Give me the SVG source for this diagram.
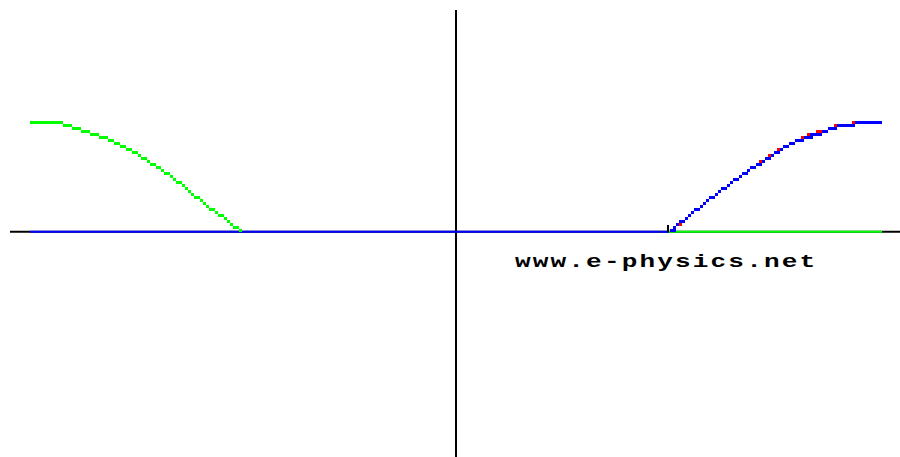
<svg xmlns="http://www.w3.org/2000/svg" width="900" height="457" viewBox="0 0 900 457">
<style>
.ax{stroke:#000;stroke-width:2;fill:none}
.g{stroke:#00ff00;stroke-width:3;fill:none}
.b{stroke:#0000ff;stroke-width:3;fill:none}
.r{stroke:#ff0000;stroke-width:3;fill:none}
.txt{font-family:"Liberation Mono","DejaVu Sans Mono",monospace;font-weight:bold;font-size:18px;fill:#000}
</style>
<rect width="900" height="457" fill="#fff"/>
<g id="axes">
<line class="ax" x1="10" y1="231.8" x2="900" y2="231.8"/>
<line class="ax" x1="456" y1="10" x2="456" y2="457"/>
</g>
<g id="baselines">
<line x1="30" y1="231.8" x2="669" y2="231.8" stroke="#0000ff" stroke-width="2"/>
<line x1="669" y1="231.8" x2="882" y2="231.8" stroke="#00ff00" stroke-width="2"/>
<line x1="668" y1="225" x2="668" y2="232" stroke="#000" stroke-width="2"/>
</g>
<g id="left-curve">
<path class="g" d="M30 122.5H63 M63 125.5H72 M72 128.5H81 M81 131.5H90 M90 134.5H99 M99 137.5H108 M108 140.5H114 M114 143.5H120 M120 146.5H126 M126 149.5H132 M132 152.5H138 M138 155.5H141 M141 158.5H147 M147 161.5H150 M150 164.5H156 M156 167.5H161 M161 170.5H164 M164 173.5H170 M170 176.5H173 M173 179.5H176 M176 182.5H182 M182 185.5H185 M185 188.5H188 M188 191.5H191 M191 194.5H194 M194 197.5H200 M200 200.5H203 M203 203.5H206 M206 206.5H209 M209 209.5H215 M215 212.5H218 M218 215.5H224 M224 218.5H227 M227 221.5H230 M230 224.5H233 M233 227.5H239 M239 230.5H242"/>
</g>
<g id="right-curve">
<path class="b" d="M855 122.5H882 M837 125.5H855 M828 128.5H837 M822 131.5H828 M810 134.5H822 M804 137.5H813 M795 140.5H804 M789 143.5H795 M783 146.5H789 M780 149.5H783 M774 152.5H780 M771 155.5H774 M765 158.5H771 M762 161.5H765 M756 164.5H762 M750 167.5H756 M747 170.5H750 M742 173.5H748 M739 176.5H742 M733 179.5H739 M730 182.5H733 M727 185.5H730 M721 188.5H727 M718 191.5H721 M715 194.5H718 M709 197.5H715 M706 200.5H709 M703 203.5H706 M700 206.5H703 M694 209.5H700 M691 212.5H694 M688 215.5H691 M685 218.5H688 M679 221.5H685 M676 224.5H679 M673 227.5H676 M670 230.5H676"/>
<path class="r" d="M852 122.5H855 M834 125.5H837 M816 131.5H822 M807 134.5H810 M801 137.5H804 M777 149.5H780 M768 155.5H771 M759 161.5H762 M679 224.5H682"/>
</g>
<g id="label" transform="translate(515,267) scale(1.45,1)">
<text class="txt" x="0" y="0" textLength="207" lengthAdjust="spacing">www.e-physics.net</text>
</g>
</svg>
